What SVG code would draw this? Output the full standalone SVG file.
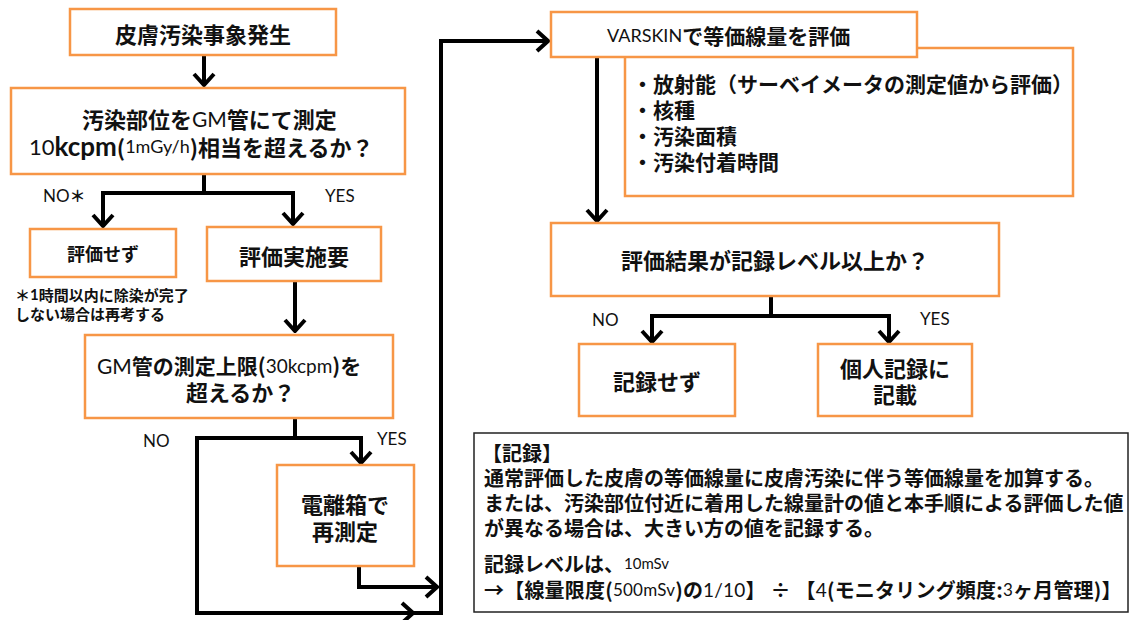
<svg xmlns="http://www.w3.org/2000/svg" width="1131" height="620" viewBox="0 0 1131 620">
<style>
.box{fill:#fff;stroke:#F79646;stroke-width:2.5}
.rec{fill:#fff;stroke:#222;stroke-width:1.5}
.jp{font-family:"Noto Sans CJK JP","Noto Sans CJK SC",sans-serif;font-weight:700;fill:#111}
.lat{font-family:"Lato","DejaVu Sans",sans-serif;font-weight:400;fill:#111}
.c{text-anchor:middle;dominant-baseline:central}
.l{dominant-baseline:central}
.ln{fill:none;stroke:#000;stroke-width:4}
.lnA{fill:none;stroke:#000;stroke-width:4;marker-end:url(#ah)}
</style>
<defs>
<marker id="ah" markerUnits="userSpaceOnUse" viewBox="-14 -12 16 24" markerWidth="16" markerHeight="24" refX="0" refY="0" orient="auto">
<path d="M-11,-10 L0,0 L-11,10" fill="none" stroke="#000" stroke-width="4"/>
</marker>
</defs>

<g id="connectors">
<path class="lnA" d="M204,55 V85"/>
<path class="ln" d="M204,174 V193 M101,193 H295"/>
<path class="lnA" d="M103,193 V226"/>
<path class="lnA" d="M293,193 V224"/>
<path class="lnA" d="M295,281 V331"/>
<path class="ln" d="M295,418 V438 M197,438 H363"/>
<path class="lnA" d="M361,438 V463"/>
<path class="lnA" d="M197,436 V613 H413"/>
<path class="ln" d="M411,613 H441"/>
<path class="lnA" d="M359,566 V587 H437"/>
<path class="lnA" d="M441,615 V41 H548"/>
<path class="lnA" d="M597,57 V221"/>
<path class="ln" d="M771,296 V316 M650,316 H891"/>
<path class="lnA" d="M652,316 V342"/>
<path class="lnA" d="M889,316 V342"/>
</g>

<g id="n1">
<rect class="box" x="70" y="9" width="266" height="46"/>
<text class="jp c" x="203" y="33" font-size="22">皮膚汚染事象発生</text>
</g>

<g id="n2">
<rect class="box" x="11" y="88" width="394" height="86"/>
<text class="jp l" font-size="22"><tspan x="82" y="118">汚染部位を<tspan class="lat" font-size="21">GM</tspan>管にて測定</tspan><tspan x="29" y="146"><tspan class="lat" font-size="22">10</tspan><tspan font-size="26" font-family="Lato,sans-serif">kcpm</tspan>(<tspan class="lat" font-size="18">1mGy/h</tspan>)相当を超えるか？</tspan></text>
</g>

<g id="lbl1">
<text class="lat l" x="43" y="195" font-size="17">NO<tspan class="jp" font-size="16">＊</tspan></text>
<text class="lat l" x="325" y="195" font-size="17">YES</text>
</g>

<g id="n3">
<rect class="box" x="30" y="229" width="146" height="48"/>
<text class="jp c" x="103" y="253" font-size="18">評価せず</text>
</g>
<g id="note">
<text class="jp l" font-size="15"><tspan x="15" y="294">＊<tspan font-family="Lato,sans-serif">1</tspan>時間以内に除染が完了</tspan><tspan x="15" y="313">しない場合は再考する</tspan></text>
</g>

<g id="n4">
<rect class="box" x="207" y="227" width="174" height="54"/>
<text class="jp c" x="294" y="255" font-size="22">評価実施要</text>
</g>

<g id="n5">
<rect class="box" x="85" y="335" width="308" height="83"/>
<text class="jp l" font-size="21"><tspan x="97" y="365"><tspan class="lat">GM</tspan>管の測定上限(<tspan class="lat" font-size="19">30kcpm</tspan>)を</tspan><tspan x="186" y="391" font-size="22">超えるか？</tspan></text>
</g>

<g id="lbl2">
<text class="lat l" x="143" y="440" font-size="17">NO</text>
<text class="lat l" x="377" y="438" font-size="17">YES</text>
</g>

<g id="n6">
<rect class="box" x="277" y="465" width="137" height="101"/>
<text class="jp c" font-size="22"><tspan x="345" y="503">電離箱で</tspan><tspan x="345" y="530">再測定</tspan></text>
</g>

<g id="n8">
<rect class="box" x="625" y="48" width="448" height="148"/>
<text class="jp l" font-size="21"><tspan x="632" y="83">・放射能（サーベイメータの測定値から評価）</tspan><tspan x="632" y="109">・核種</tspan><tspan x="632" y="135">・汚染面積</tspan><tspan x="632" y="161">・汚染付着時間</tspan></text>
</g>

<g id="n7">
<rect class="box" x="551" y="12" width="366" height="45"/>
<text class="jp l" x="607" y="35" font-size="21"><tspan class="lat" font-size="18">VARSKIN</tspan>で等価線量を評価</text>
</g>

<g id="n9">
<rect class="box" x="551" y="223" width="448" height="73"/>
<text class="jp c" x="775" y="259" font-size="22">評価結果が記録レベル以上か？</text>
</g>

<g id="lbl3">
<text class="lat l" x="592" y="319" font-size="17">NO</text>
<text class="lat l" x="920" y="318" font-size="17">YES</text>
</g>

<g id="n10">
<rect class="box" x="579" y="344" width="156" height="72"/>
<text class="jp c" x="657" y="380" font-size="22">記録せず</text>
</g>

<g id="n11">
<rect class="box" x="818" y="344" width="154" height="72"/>
<text class="jp c" font-size="22"><tspan x="895" y="367">個人記録に</tspan><tspan x="895" y="393">記載</tspan></text>
</g>

<g id="n12">
<rect class="rec" x="474" y="433" width="654" height="179"/>
<text class="jp l" font-size="20"><tspan x="482" y="452">【記録】</tspan><tspan x="484" y="477">通常評価した皮膚の等価線量に皮膚汚染に伴う等価線量を加算する。</tspan><tspan x="484" y="502">または、汚染部位付近に着用した線量計の値と本手順による評価した値</tspan><tspan x="484" y="527">が異なる場合は、大きい方の値を記録する。</tspan><tspan x="484" y="563">記録レベルは、<tspan class="lat" font-size="15">10mSv</tspan></tspan></text>
<text class="jp l" font-size="20" x="484" y="589" letter-spacing="0.2">→【線量限度(<tspan class="lat" font-size="17">500mSv</tspan>)の<tspan class="lat" font-size="19">1/10</tspan>】 ÷ 【<tspan class="lat" font-size="19">4</tspan>(モニタリング頻度:<tspan class="lat" font-size="17">3</tspan>ヶ月管理)】</text>
</g>
</svg>
